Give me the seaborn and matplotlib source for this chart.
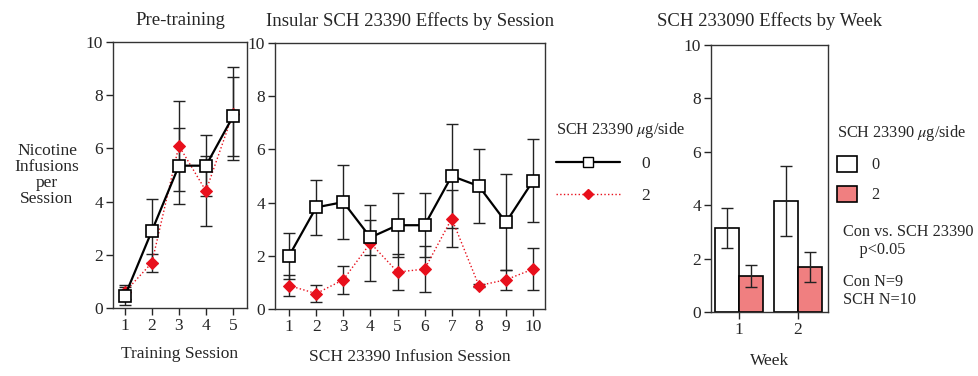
import numpy as np
import pandas as pd
import matplotlib
matplotlib.use("Agg")
import matplotlib.pyplot as plt
import seaborn as sns
from matplotlib.lines import Line2D
from matplotlib.patches import Patch

sns.set_style("ticks")
plt.rcParams['font.family'] = ['Liberation Serif', 'DejaVu Serif']
plt.rcParams['mathtext.fontset'] = 'stix'

# ---- data ----
train_sessions = [1, 2, 3, 4, 5]
train_con = [0.45, 2.9, 5.35, 5.35, 7.2]
train_con_err = [0.35, 1.2, 1.43, 1.15, 1.5]
train_sch = [0.6, 1.7, 6.1, 4.4, 7.3]
train_sch_err = [0.25, 0.34, 1.7, 1.3, 1.75]

inf_sessions = [1, 2, 3, 4, 5, 6, 7, 8, 9, 10]
inf_con = [2.0, 3.82, 4.02, 2.69, 3.15, 3.15, 5.0, 4.62, 3.26, 4.82]
inf_con_err = [0.86, 1.04, 1.39, 0.67, 1.2, 1.2, 1.94, 1.4, 1.8, 1.56]
inf_sch = [0.88, 0.58, 1.1, 2.48, 1.39, 1.5, 3.4, 0.88, 1.1, 1.5]
inf_sch_err = [0.4, 0.32, 0.52, 1.44, 0.67, 0.87, 1.07, 0.05, 0.37, 0.78]

weeks = ['1', '2']
week_con = [3.15, 4.15]
week_con_err = [0.75, 1.3]
week_sch = [1.35, 1.7]
week_sch_err = [0.42, 0.56]

dose_labels = ['0', '2']

RED = '#e8101c'
SALMON = '#f07f80'

fig = plt.figure(figsize=(9.79, 3.76), dpi=100)
ax1 = fig.add_axes([0.1154, 0.1809, 0.1369, 0.7074])
ax2 = fig.add_axes([0.2809, 0.1782, 0.2758, 0.7074])
ax3 = fig.add_axes([0.7263, 0.1702, 0.1195, 0.7101])

TS = 12.5
TT = 13.5
TL = 11.7


def line_panel(ax, x, con, con_err, sch, sch_err):
    df = pd.DataFrame({
        'x': list(x) * 2,
        'y': list(sch) + list(con),
        'dose': [dose_labels[1]] * len(x) + [dose_labels[0]] * len(x),
    })
    ax.errorbar(x, sch, yerr=sch_err, fmt='none', ecolor='#222222', elinewidth=1.0, capsize=4, capthick=1.0, zorder=2)
    ax.errorbar(x, con, yerr=con_err, fmt='none', ecolor='#222222', elinewidth=1.0, capsize=4, capthick=1.0, zorder=2)
    sns.lineplot(data=df[df.dose == '2'], x='x', y='y', ax=ax, color=RED, linestyle=':', linewidth=1.0,
                 marker='D', markersize=6, markeredgecolor=RED, markerfacecolor=RED, legend=False, zorder=3)
    sns.lineplot(data=df[df.dose == '0'], x='x', y='y', ax=ax, color='black', linestyle='-', linewidth=1.6,
                 marker='s', markersize=8, markeredgecolor='black', markerfacecolor='white', markeredgewidth=1.2,
                 legend=False, zorder=4)
    ax.set_ylim(0, 10)
    ax.set_yticks([0, 2, 4, 6, 8, 10])
    ax.set_xticks(x)
    ax.tick_params(direction='out', length=5, width=1, labelsize=TS, pad=2)
    for s in ax.spines.values():
        s.set_visible(True)
        s.set_linewidth(1.0)
        s.set_color('#333333')
    ax.set_ylabel('')


line_panel(ax1, train_sessions, train_con, train_con_err, train_sch, train_sch_err)
ax1.set_xlim(0.56, 5.52)
ax1.set_xlabel('Training Session', fontsize=TS, labelpad=9)
ax1.set_title('Pre-training', fontsize=TT, pad=12)

line_panel(ax2, inf_sessions, inf_con, inf_con_err, inf_sch, inf_sch_err)
ax2.set_xlim(0.48, 10.44)
ax2.set_xlabel('SCH 23390 Infusion Session', fontsize=TS, labelpad=10)
ax2.set_title('Insular SCH 23390 Effects by Session', fontsize=TT, pad=12)

fig.text(0.048, 0.535, 'Nicotine\nInfusions\nper\nSession', ha='center', va='center', fontsize=TS, linespacing=1.0)

# legend for line panels
handles = [
    Line2D([], [], color='black', linewidth=1.6, marker='s', markersize=7, markerfacecolor='white', markeredgecolor='black'),
    Line2D([], [], color=RED, linewidth=1.0, linestyle=':', marker='D', markersize=5, markerfacecolor=RED, markeredgecolor=RED),
]
fig.legend(handles, dose_labels, title='SCH 23390 $\\mu$g/side', loc='upper left', bbox_to_anchor=(0.561, 0.698),
           frameon=False, fontsize=TS, title_fontsize=TL, handlelength=3.7, labelspacing=0.9, handletextpad=1.2,
           alignment='left', borderaxespad=0)

# bar panel
bdf = pd.DataFrame({
    'week': weeks * 2,
    'val': week_con + week_sch,
    'dose': [dose_labels[0]] * 2 + [dose_labels[1]] * 2,
})
sns.barplot(data=bdf, x='week', y='val', hue='dose', hue_order=dose_labels, ax=ax3,
            palette=['white', SALMON], edgecolor='black', linewidth=1.2, errorbar=None, legend=False, width=0.8,
            saturation=1)
errs = week_con_err + week_sch_err
vals = week_con + week_sch
bars = [p for p in ax3.patches]
bars = sorted(bars, key=lambda p: (p.get_facecolor()[1] < 0.9, p.get_x()))
for p, v, e in zip(bars, vals, errs):
    xc = p.get_x() + p.get_width() / 2
    ax3.errorbar([xc], [v], yerr=[e], fmt='none', ecolor='#222222', elinewidth=1.0, capsize=4, capthick=1.0, zorder=5)
ax3.set_ylim(0, 10)
ax3.set_xlim(-0.475, 1.51)
ax3.set_yticks([0, 2, 4, 6, 8, 10])
ax3.tick_params(direction='out', length=5, width=1, labelsize=TS, pad=2)
for s in ax3.spines.values():
    s.set_visible(True)
    s.set_linewidth(1.0)
    s.set_color('#333333')
ax3.set_ylabel('')
ax3.set_xlabel('Week', fontsize=TS, labelpad=11)
ax3.set_title('SCH 233090 Effects by Week', fontsize=TT, pad=14)

bh = [Patch(facecolor='white', edgecolor='black', linewidth=1.2), Patch(facecolor=SALMON, edgecolor='black', linewidth=1.2)]
fig.legend(bh, dose_labels, title='SCH 23390 $\\mu$g/side', loc='upper left', bbox_to_anchor=(0.855, 0.672),
           frameon=False, fontsize=TL, title_fontsize=TL, handlelength=1.2, handleheight=1.2, labelspacing=0.75,
           handletextpad=0.9, alignment='left', borderaxespad=0, borderpad=0)

fig.text(0.861, 0.36, 'Con vs. SCH 23390\n    p<0.05', ha='left', va='center', fontsize=TL, linespacing=1.15)
fig.text(0.861, 0.226, 'Con N=9\nSCH N=10', ha='left', va='center', fontsize=TL, linespacing=1.15)

fig.savefig('out.png', dpi=100)
